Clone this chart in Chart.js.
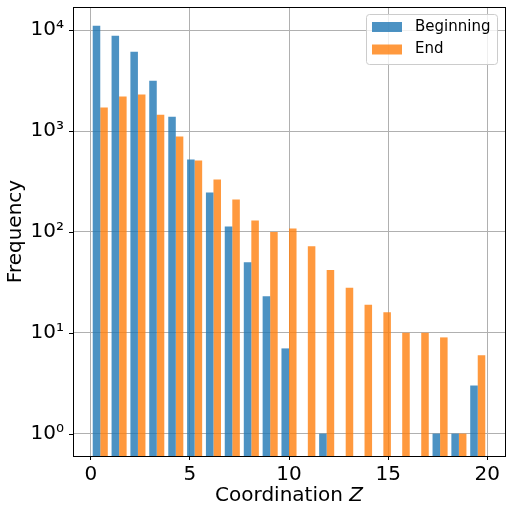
<!DOCTYPE html>
<html>
<head>
<meta charset="utf-8">
<script src="https://cdn.jsdelivr.net/npm/chart.js@4/dist/chart.umd.min.js"></script>
<style>
  body { margin: 0; background: #fff; }
  canvas { display: block; }
</style>
</head>
<body>
<canvas id="chart" width="512" height="512"></canvas>
<script>
// histogram bins (centers of 21 bins over 0..20)
const binCenters = [0.48, 1.43, 2.38, 3.33, 4.29, 5.24, 6.19, 7.14, 8.10, 9.05, 10.00,
  10.95, 11.90, 12.86, 13.81, 14.76, 15.71, 16.67, 17.62, 18.57, 19.52];
const beginningCounts = [11100, 8830, 6120, 3160, 1390, 522, 246, 113, 50, 23, 7,
  null, 1, null, null, null, null, null, 1, 1, 3];
const endCounts = [1710, 2200, 2300, 1455, 883, 511, 331, 210, 130, 100, 108,
  72, 42, 28, 19, 16, 10, 10, 9, 1, 6];
const seriesLabels = ['Beginning', 'End'];
const xTicks = [0, 5, 10, 15, 20];
const yDecades = [1, 10, 100, 1000, 10000];
const superscripts = ['⁰', '¹', '²', '³', '⁴'];

const chartCanvas = document.querySelector('#chart');
const fontFamily = '"DejaVu Sans", sans-serif';

function logTicks() {
  let ticks = [];
  yDecades.forEach(decade => {
    for (let m = 1; m <= 9; m++) {
      ticks.push({ value: decade * m, major: m === 1 });
    }
  });
  ticks.unshift({ value: 0.7, major: false }, { value: 0.8, major: false }, { value: 0.9, major: false });
  return ticks.filter(t => t.value <= 17000);
}

// keep the plot box where the reference has it
function fixSize(scale, key, size) {
  scale[key] = size;
  scale.paddingTop = 0;
  scale.paddingBottom = 0;
  scale.paddingLeft = 0;
  scale.paddingRight = 0;
}

// spines, minor/major y tick marks, x title with italic Z, legend
const decorations = {
  id: 'decorations',
  afterDraw(chart) {
    const ctx = chart.ctx;
    const area = chart.chartArea;
    const yScale = chart.scales.y;
    ctx.save();

    ctx.strokeStyle = '#000';
    ctx.lineWidth = 1;
    ctx.beginPath();
    yScale.ticks.forEach(t => {
      let py = Math.round(yScale.getPixelForValue(t.value)) + 0.5;
      let len = t.major ? 4 : 2.5;
      ctx.moveTo(area.left - len, py);
      ctx.lineTo(area.left, py);
    });
    ctx.stroke();
    ctx.strokeRect(Math.round(area.left) + 0.5, Math.round(area.top) + 0.5,
      Math.round(area.right) - Math.round(area.left), Math.round(area.bottom) - Math.round(area.top));

    // x axis title
    ctx.fillStyle = '#000';
    ctx.textBaseline = 'alphabetic';
    ctx.font = '20px ' + fontFamily;
    let mainText = 'Coordination ';
    let mainWidth = ctx.measureText(mainText).width;
    ctx.font = 'italic 20px ' + fontFamily;
    let zWidth = ctx.measureText('Z').width;
    let startX = (area.left + area.right) / 2 - (mainWidth + zWidth) / 2;
    ctx.font = '20px ' + fontFamily;
    ctx.fillText(mainText, startX, 501);
    ctx.font = 'italic 20px ' + fontFamily;
    ctx.fillText('Z', startX + mainWidth, 501);

    // legend
    let boxRight = area.right - 7.5;
    let boxTop = area.top + 7.5;
    let boxLeft = boxRight - 131;
    let boxHeight = 50;
    ctx.beginPath();
    ctx.roundRect(boxLeft, boxTop, boxRight - boxLeft, boxHeight, 3);
    ctx.fillStyle = 'rgba(255,255,255,0.8)';
    ctx.fill();
    ctx.strokeStyle = '#cccccc';
    ctx.stroke();
    ctx.font = '15px ' + fontFamily;
    ctx.textBaseline = 'middle';
    chart.data.datasets.forEach((ds, i) => {
      let rowY = boxTop + 12.5 + i * 22.5;
      ctx.fillStyle = ds.backgroundColor;
      ctx.fillRect(boxLeft + 5.5, rowY - 5, 30, 10);
      ctx.fillStyle = '#000';
      ctx.fillText(ds.label, boxLeft + 48.5, rowY);
    });
    ctx.restore();
  }
};

const chart = new Chart(chartCanvas, {
  type: 'bar',
  data: {
    labels: binCenters,
    datasets: [
      { label: seriesLabels[0], data: beginningCounts, backgroundColor: 'rgba(31,119,180,0.8)' },
      { label: seriesLabels[1], data: endCounts, backgroundColor: 'rgba(255,127,14,0.8)' }
    ]
  },
  options: {
    responsive: false,
    animation: false,
    events: [],
    categoryPercentage: 0.8,
    barPercentage: 1.0,
    layout: { padding: { top: 7, right: 7, left: 0, bottom: 0 } },
    plugins: { legend: { display: false }, tooltip: { enabled: false } },
    scales: {
      x: {
        type: 'linear',
        min: -0.895,
        max: 20.895,
        offset: false,
        z: 1,
        afterBuildTicks: scale => { scale.ticks = xTicks.map(v => ({ value: v })); },
        afterFit: scale => fixSize(scale, 'height', 56),
        grid: { offset: false, color: '#b0b0b0', lineWidth: 1, tickColor: '#000', tickLength: 4, tickWidth: 1 },
        border: { display: false },
        ticks: { color: '#000', font: { family: fontFamily, size: 20 }, padding: 3, maxRotation: 0 }
      },
      y: {
        type: 'logarithmic',
        min: 0.62,
        max: 17000,
        z: 1,
        afterBuildTicks: scale => { scale.ticks = logTicks(); },
        afterFit: scale => fixSize(scale, 'width', 73),
        grid: {
          color: c => (c.tick && c.tick.major ? '#b0b0b0' : 'rgba(0,0,0,0)'),
          lineWidth: 1,
          drawTicks: false
        },
        border: { display: false },
        ticks: {
          color: '#000',
          autoSkip: false,
          padding: 9,
          font: { family: fontFamily, size: 20 },
          callback: (value) => {
            let k = yDecades.indexOf(value);
            return k >= 0 ? '10' + superscripts[k] : null;
          }
        },
        title: {
          display: true,
          text: 'Frequency',
          color: '#000',
          font: { family: fontFamily, size: 20 },
          padding: { top: 4, bottom: 0 }
        }
      }
    }
  },
  plugins: [decorations]
});
</script>
</body>
</html>
